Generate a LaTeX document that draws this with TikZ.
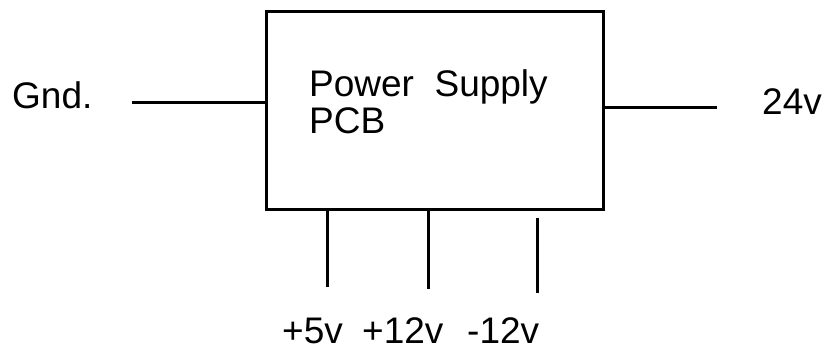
\documentclass[tikz,border=0pt]{standalone}
\usepackage{fontspec}
\setmainfont{Liberation Sans}
\begin{document}
\begin{tikzpicture}[x=1pt,y=-1pt,font=\fontsize{37}{37}\selectfont,
  wire/.style={line width=3pt},
  lbl/.style={inner sep=0pt,text depth=0pt,anchor=base west}]
  \useasboundingbox (0,0) rectangle (828,352);
  % the board
  \node[draw,wire,minimum width=337pt,minimum height=198pt,inner sep=0pt] (box) at (434.5,111) {};
  \node[inner sep=0pt,anchor=north west,align=left] (psu) at (309,69) {Power~~Supply\\PCB};
  % side leads
  \node[lbl] (gnd) at (12,109) {Gnd.};
  \node[lbl] (v24) at (762,115) {24v};
  \coordinate (gndend) at (132,103);
  \coordinate (v24end) at (717,108);
  \draw[wire] (gndend) -- (box.west |- gndend);
  \draw[wire] (box.east |- v24end) -- (v24end);
  % bottom leads
  \node[lbl] (v5) at (282,344) {+5v};
  \node[lbl] (v12) at (362,344) {+12v};
  \node[lbl] (vm12) at (467,344) {-12v};
  \foreach \x/\y/\g [count=\i] in {327/287/0,428/289/0,537/293/7}{
    \coordinate (lead\i) at (\x,\y);
    \draw[wire] ([yshift=-\g pt]box.south -| lead\i) -- (lead\i);
  }
\end{tikzpicture}
\end{document}
